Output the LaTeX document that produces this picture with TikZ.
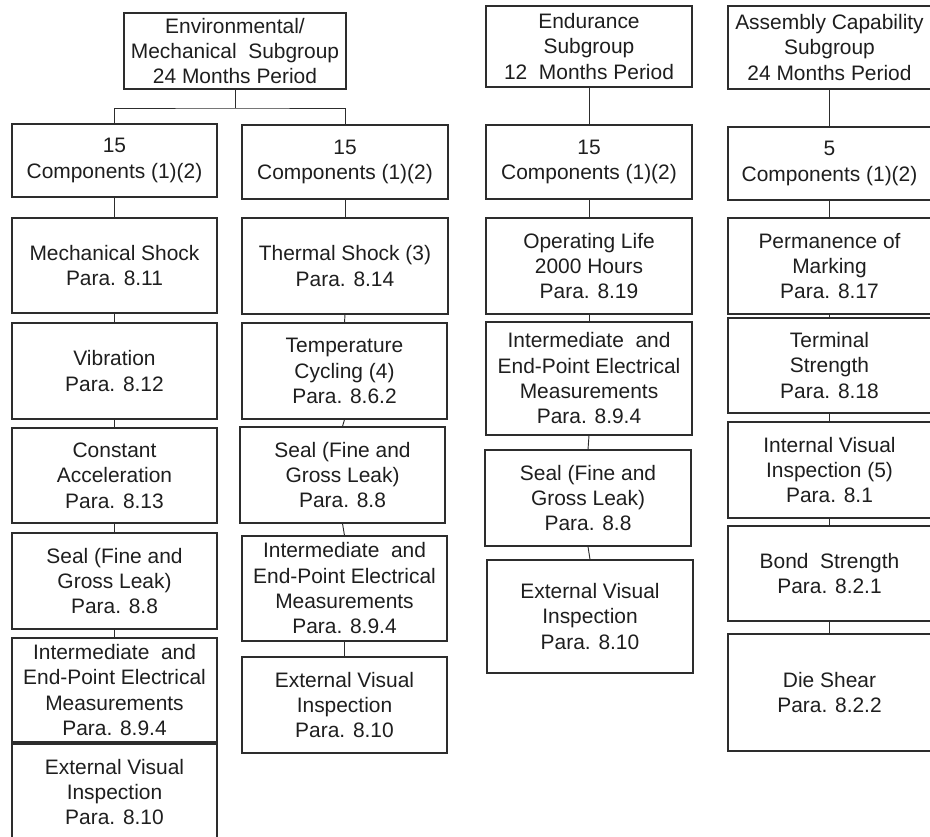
\documentclass[tikz,border=0pt]{standalone}
\usepackage{fontspec}
\setmainfont{Liberation Sans}
\definecolor{linegray}{RGB}{45,45,45}
\definecolor{textgray}{RGB}{30,30,30}
\tikzset{
  box/.style={draw=linegray, line width=0.8pt, align=center, inner sep=0pt, text=textgray,
    font=\fontsize{15.7}{19}\selectfont},
  link/.style={draw=linegray, line width=0.7pt}
}
\begin{document}
\begin{tikzpicture}[x=0.75pt,y=0.75pt,yscale=-1,xscale=1]
\useasboundingbox (0,0) rectangle (930,836);

%Environmental / Mechanical subgroup
\node[box, minimum width=166.5pt, minimum height=57pt] (env) at (235,51) {Environmental/\\Mechanical~~Subgroup\\24 Months Period};
\node[box, minimum width=153.75pt, minimum height=54.75pt] (compa) at (114.5,160.5) {15\\Components (1)(2)};
\node[box, minimum width=154.5pt, minimum height=55.5pt] (compb) at (345,162) {15\\Components (1)(2)};

% left column
\node[box, minimum width=153.75pt, minimum height=71.25pt] (mech) at (114.5,265.5) {Mechanical Shock\\Para. 8.11};
\node[box, minimum width=153.75pt, minimum height=72pt] (vib) at (114.5,371) {Vibration\\Para. 8.12};
\node[box, minimum width=153.75pt, minimum height=71.25pt] (accel) at (114.5,475.5) {Constant\\Acceleration\\Para. 8.13};
\node[box, minimum width=153.75pt, minimum height=72pt] (seala) at (114.5,581) {Seal (Fine and\\Gross Leak)\\Para. 8.8};
\node[box, minimum width=153.75pt, minimum height=78pt] (eleca) at (114.5,690) {Intermediate~~and\\End-Point Electrical\\Measurements\\Para. 8.9.4};
\node[box, minimum width=153.75pt, minimum height=72pt] (exta) at (114.5,792) {External Visual\\Inspection\\Para. 8.10};

% second column
\node[box, minimum width=154.5pt, minimum height=72pt] (therm) at (345,266) {Thermal Shock (3)\\Para. 8.14};
\node[box, minimum width=153.75pt, minimum height=72pt] (tcyc) at (344.5,371) {Temperature\\Cycling (4)\\Para. 8.6.2};
\node[box, minimum width=153.75pt, minimum height=72pt] (sealb) at (342.5,475) {Seal (Fine and\\Gross Leak)\\Para. 8.8};
\node[box, minimum width=153.75pt, minimum height=78.75pt] (elecb) at (344.5,588.5) {Intermediate~~and\\End-Point Electrical\\Measurements\\Para. 8.9.4};
\node[box, minimum width=153.75pt, minimum height=72pt] (extb) at (344.5,705) {External Visual\\Inspection\\Para. 8.10};

%Endurance subgroup
\node[box, minimum width=154.5pt, minimum height=60.75pt] (endu) at (589,46.5) {Endurance\\Subgroup\\12~~Months Period};
\node[box, minimum width=154.5pt, minimum height=55.5pt] (compc) at (589,162) {15\\Components (1)(2)};
\node[box, minimum width=154.5pt, minimum height=72pt] (oplife) at (589,266) {Operating Life\\2000 Hours\\Para. 8.19};
\node[box, minimum width=154.5pt, minimum height=84.75pt] (elecc) at (589,378.5) {Intermediate~~and\\End-Point Electrical\\Measurements\\Para. 8.9.4};
\node[box, minimum width=154.5pt, minimum height=72pt] (sealc) at (588,498) {Seal (Fine and\\Gross Leak)\\Para. 8.8};
\node[box, minimum width=154.5pt, minimum height=84.75pt] (extc) at (590,616.5) {External Visual\\Inspection\\Para. 8.10};

%Assembly capability subgroup
\node[box, minimum width=152.25pt, minimum height=62.25pt] (asm) at (829.5,47.5) {Assembly Capability\\Subgroup\\24 Months Period};
\node[box, minimum width=152.25pt, minimum height=54.75pt] (compd) at (829.5,163.5) {5\\Components (1)(2)};
\node[box, minimum width=152.25pt, minimum height=72pt] (perm) at (829.5,266) {Permanence of\\Marking\\Para. 8.17};
\node[box, minimum width=152.25pt, minimum height=71.25pt] (term) at (829.5,365.5) {Terminal\\Strength\\Para. 8.18};
\node[box, minimum width=152.25pt, minimum height=72pt] (ivis) at (829.5,470) {Internal Visual\\Inspection (5)\\Para. 8.1};
\node[box, minimum width=152.25pt, minimum height=71.25pt] (bond) at (829.5,573.5) {Bond~~Strength\\Para. 8.2.1};
\node[box, minimum width=152.25pt, minimum height=87.75pt] (die) at (829.5,692.5) {Die Shear\\Para. 8.2.2};

% connectors
\coordinate (split) at (235,108);
\draw[link] (env.south) -- (split);
\draw[link] (compa.north) |- (split) -| (compb.north);
\draw[link] (compa.south) -- (mech.north);
\draw[link] (mech.south) -- (vib.north);
\draw[link] (vib.south) -- (accel.north);
\draw[link] (accel.south) -- (seala.north);
\draw[link] (seala.south) -- (eleca.north);
\draw[link] (eleca.south) -- (exta.north);
\draw[link] (compb.south) -- (therm.north);
\draw[link] (therm.south) -- (tcyc.north);
\draw[link] (tcyc.south) -- (sealb.north);
\draw[link] (sealb.south) -- (elecb.north);
\draw[link] (elecb.south) -- (extb.north);
\draw[link] (endu.south) -- (compc.north);
\draw[link] (compc.south) -- (oplife.north);
\draw[link] (oplife.south) -- (elecc.north);
\draw[link] (elecc.south) -- (sealc.north);
\draw[link] (sealc.south) -- (extc.north);
\draw[link] (asm.south) -- (compd.north);
\draw[link] (compd.south) -- (perm.north);
\draw[link] (perm.south) -- (term.north);
\draw[link] (term.south) -- (ivis.north);
\draw[link] (ivis.south) -- (bond.north);
\draw[link] (bond.south) -- (die.north);

\end{tikzpicture}
\end{document}
